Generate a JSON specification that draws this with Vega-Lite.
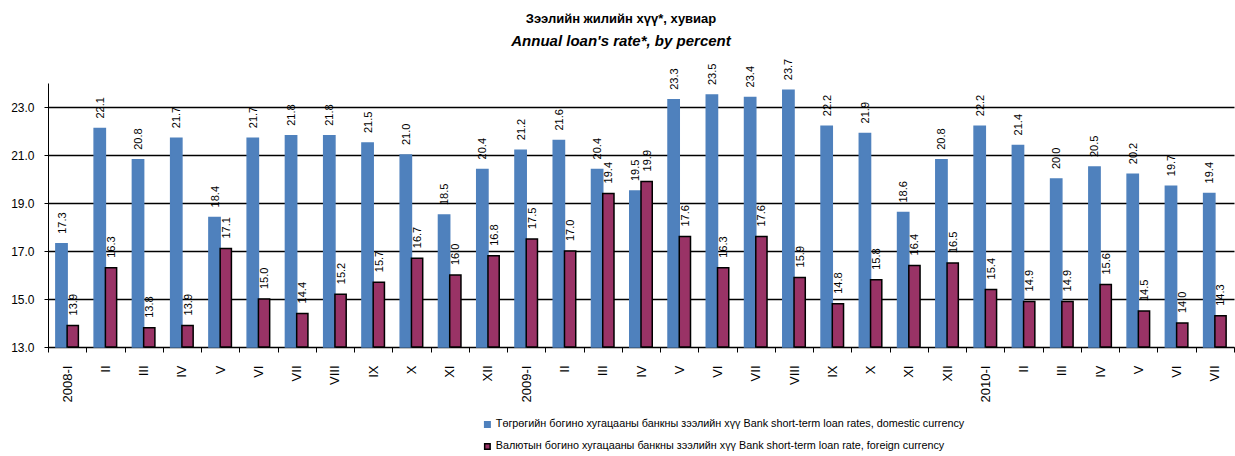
{
  "$schema": "https://vega.github.io/schema/vega-lite/v6.json",
  "width": 1186,
  "height": 264,
  "autosize": "none",
  "padding": {"left": 48, "top": 83, "right": 1, "bottom": 109},
  "title": {
    "text": "Зээлийн жилийн хүү*, хувиар",
    "subtitle": "Annual loan's rate*, by percent",
    "anchor": "middle",
    "dx": -20,
    "offset": 10,
    "font": "Liberation Sans",
    "fontSize": 13,
    "fontWeight": "bold",
    "color": "black",
    "subtitleFont": "Liberation Sans",
    "subtitleFontSize": 15,
    "subtitleFontWeight": "bold",
    "subtitleFontStyle": "italic",
    "subtitleColor": "black",
    "subtitlePadding": 8
  },
  "data": {
    "values": [
      {"m": "2008-I", "d": 17.3, "f": 13.9},
      {"m": "2008-II", "d": 22.1, "f": 16.3},
      {"m": "2008-III", "d": 20.8, "f": 13.8},
      {"m": "2008-IV", "d": 21.7, "f": 13.9},
      {"m": "2008-V", "d": 18.4, "f": 17.1},
      {"m": "2008-VI", "d": 21.7, "f": 15.0},
      {"m": "2008-VII", "d": 21.8, "f": 14.4},
      {"m": "2008-VIII", "d": 21.8, "f": 15.2},
      {"m": "2008-IX", "d": 21.5, "f": 15.7},
      {"m": "2008-X", "d": 21.0, "f": 16.7},
      {"m": "2008-XI", "d": 18.5, "f": 16.0},
      {"m": "2008-XII", "d": 20.4, "f": 16.8},
      {"m": "2009-I", "d": 21.2, "f": 17.5},
      {"m": "2009-II", "d": 21.6, "f": 17.0},
      {"m": "2009-III", "d": 20.4, "f": 19.4},
      {"m": "2009-IV", "d": 19.5, "f": 19.9},
      {"m": "2009-V", "d": 23.3, "f": 17.6},
      {"m": "2009-VI", "d": 23.5, "f": 16.3},
      {"m": "2009-VII", "d": 23.4, "f": 17.6},
      {"m": "2009-VIII", "d": 23.7, "f": 15.9},
      {"m": "2009-IX", "d": 22.2, "f": 14.8},
      {"m": "2009-X", "d": 21.9, "f": 15.8},
      {"m": "2009-XI", "d": 18.6, "f": 16.4},
      {"m": "2009-XII", "d": 20.8, "f": 16.5},
      {"m": "2010-I", "d": 22.2, "f": 15.4},
      {"m": "2010-II", "d": 21.4, "f": 14.9},
      {"m": "2010-III", "d": 20.0, "f": 14.9},
      {"m": "2010-IV", "d": 20.5, "f": 15.6},
      {"m": "2010-V", "d": 20.2, "f": 14.5},
      {"m": "2010-VI", "d": 19.7, "f": 14.0},
      {"m": "2010-VII", "d": 19.4, "f": 14.3}
    ]
  },
  "transform": [{"fold": ["d", "f"], "as": ["series", "v"]}],
  "encoding": {
    "x": {
      "field": "m",
      "type": "nominal",
      "sort": null,
      "scale": {"paddingInner": 0, "paddingOuter": 0},
      "axis": {
        "title": null,
        "labelAngle": -90,
        "labelFont": "Liberation Sans",
        "labelFontSize": 13,
        "labelColor": "black",
        "labelPadding": 13,
        "tickSize": 5,
        "tickColor": "black",
        "tickWidth": 1,
        "tickBand": "extent",
        "domainColor": "black",
        "domainWidth": 1,
        "grid": false,
        "labelExpr": "split(datum.value,'-')[1] === 'I' ? datum.value : split(datum.value,'-')[1]"
      }
    },
    "xOffset": {
      "field": "series",
      "type": "nominal",
      "scale": {"paddingInner": 0, "paddingOuter": 0.7}
    },
    "y": {
      "field": "v",
      "type": "quantitative",
      "scale": {"domain": [13, 24], "zero": false, "nice": false},
      "axis": {
        "title": null,
        "values": [13, 15, 17, 19, 21, 23],
        "format": ".1f",
        "labelFont": "Liberation Sans",
        "labelFontSize": 12,
        "labelColor": "black",
        "labelPadding": 10,
        "tickSize": 4,
        "tickColor": "black",
        "domainColor": "black",
        "domainWidth": 1,
        "grid": true,
        "gridColor": "black",
        "gridWidth": 1.3
      }
    }
  },
  "layer": [
    {
      "mark": {"type": "bar", "strokeWidth": 1.5},
      "encoding": {
        "y2": {"datum": 13},
        "color": {
          "field": "series",
          "type": "nominal",
          "scale": {"domain": ["d", "f"], "range": ["#4F81BD", "#993366"]},
          "legend": {
            "title": null,
            "orient": "none",
            "legendX": 434,
            "legendY": 336,
            "direction": "vertical",
            "symbolType": "square",
            "symbolSize": 30,
            "symbolStrokeWidth": 1.5,
            "labelFont": "Liberation Sans",
            "labelFontSize": 10.8,
            "labelColor": "black",
            "labelOffset": 3,
            "labelLimit": 800,
            "rowPadding": 9,
            "labelExpr": "datum.value === 'd' ? 'Төгрөгийн богино хугацааны банкны зээлийн хүү Bank short-term loan rates, domestic currency' : 'Валютын богино хугацааны банкны зээлийн хүү Bank short-term loan rate, foreign currency'"
          }
        },
        "stroke": {
          "field": "series",
          "type": "nominal",
          "scale": {"domain": ["d", "f"], "range": ["#4F81BD", "black"]},
          "legend": null
        }
      }
    },
    {
      "mark": {
        "type": "text",
        "angle": -90,
        "align": "left",
        "baseline": "middle",
        "dx": 10,
        "dy": 1,
        "font": "Liberation Sans",
        "fontSize": 11,
        "color": "black"
      },
      "encoding": {
        "text": {"field": "v", "type": "quantitative", "format": ".1f"}
      }
    }
  ],
  "config": {"view": {"stroke": null}}
}
